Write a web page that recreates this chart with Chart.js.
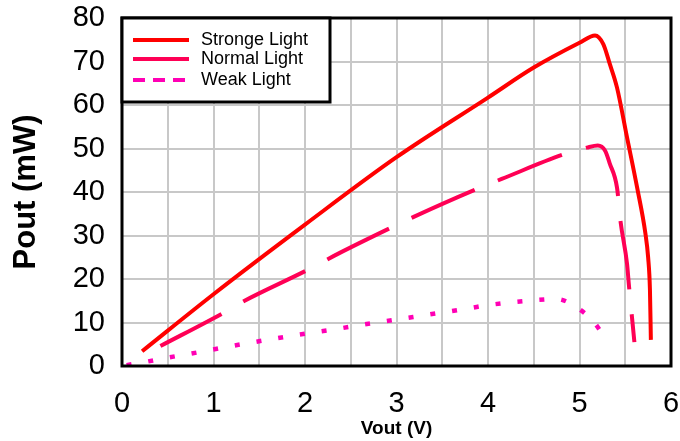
<!doctype html>
<html lang="en">
<head>
<meta charset="utf-8" />
<title>Pout vs Vout</title>
<script src="https://cdn.jsdelivr.net/npm/chart.js@4.4.4/dist/chart.umd.min.js"></script>
<style>
  html, body { margin: 0; padding: 0; background: #fff; }
  #wrap { width: 680px; height: 441px; position: relative; }
</style>
</head>
<body>
<div id="wrap"><canvas id="chart"></canvas></div>
<script>
// values (Vout in V, Pout in mW)
const strongV = [0.22, 1.0, 2.0, 3.0, 4.0, 4.5, 5.0, 5.17, 5.26, 5.33, 5.41, 5.52, 5.63, 5.72, 5.75, 5.77, 5.78];
const strongP = [3.4, 16.5, 32.5, 48, 61.7, 68.6, 74.3, 76, 74, 69.5, 64, 52.5, 41, 30.5, 25, 17.4, 6];

const normalV = [0.42, 1.09, 1.34, 2.02, 2.38, 2.96, 3.2, 3.89, 4.15, 4.82, 5.08, 5.2, 5.28, 5.33, 5.41, 5.45, 5.52, 5.54, 5.6];
const normalP = [4.6, 12, 15, 22, 26, 32, 34.4, 40.8, 43, 48.6, 50.2, 50.7, 49.5, 46.6, 41, 33, 23.4, 18.6, 5.5];

const weakV = [0.05, 0.27, 0.52, 0.74, 1.2, 1.9, 2.4, 2.6, 3.1, 3.8, 4.0, 4.5, 4.75, 4.93, 5.16, 5.3];
const weakP = [0.2, 1, 2, 2.8, 4.6, 7.1, 8.7, 9.4, 11, 13.3, 14, 15.1, 15.4, 14, 10, 5.7];

const labels = ["Stronge Light", "Normal Light", "Weak Light"];
const colors = ["#ff0000", "#ff0055", "#ff00b4"];

const pts = (xs, ys) => xs.map((x, i) => ({ x, y: ys[i] }));

// frame around the plot + legend box in the upper-left corner
const framePlugin = {
  id: "frame",
  afterDraw(chart) {
    const { ctx, chartArea: a } = chart;
    ctx.save();
    ctx.strokeStyle = "#000";
    ctx.lineWidth = 3;
    ctx.strokeRect(a.left, a.top, a.right - a.left, a.bottom - a.top);

    // legend
    const bx = a.left, by = a.top, bw = 208, bh = 84;
    ctx.fillStyle = "#fff";
    ctx.fillRect(bx, by, bw, bh);
    ctx.lineWidth = 3;
    ctx.strokeRect(bx, by, bw, bh);
    const rows = [by + 22, by + 41, by + 62];
    ctx.font = '18px "Liberation Sans", Arial, sans-serif';
    ctx.textBaseline = "middle";
    labels.forEach((t, i) => {
      ctx.strokeStyle = colors[i];
      ctx.lineWidth = 4;
      ctx.setLineDash(i === 2 ? [12, 8] : []);
      ctx.beginPath();
      ctx.moveTo(bx + 11, rows[i]);
      ctx.lineTo(bx + 67, rows[i]);
      ctx.stroke();
      ctx.setLineDash([]);
      ctx.fillStyle = "#000";
      ctx.fillText(t, bx + 79, rows[i]);
    });
    ctx.restore();
  },
};

const tickFont = { family: '"Liberation Sans", Arial, sans-serif', size: 29 };

new Chart(document.getElementById("chart"), {
  type: "line",
  data: {
    datasets: [
      { label: labels[0], data: pts(strongV, strongP), borderColor: colors[0], borderWidth: 4 },
      { label: labels[1], data: pts(normalV, normalP), borderColor: colors[1], borderWidth: 4, borderDash: [69, 25] },
      { label: labels[2], data: pts(weakV, weakP), borderColor: colors[2], borderWidth: 4.5, borderDash: [5, 17] },
    ],
  },
  options: {
    animation: false,
    responsive: true,
    maintainAspectRatio: false,
    parsing: false,
    layout: { padding: { left: 0, right: 9, top: 18, bottom: 0 } },
    elements: {
      point: { radius: 0 },
      line: { cubicInterpolationMode: "monotone", borderCapStyle: "butt", fill: false },
    },
    plugins: { legend: { display: false }, tooltip: { enabled: false } },
    scales: {
      x: {
        type: "linear",
        min: 0,
        max: 6,
        afterFit: (s) => { s.height = 75; s.paddingLeft = 0; s.paddingRight = 0; },
        border: { display: false },
        grid: { color: "#c8c8c8", lineWidth: 2, drawTicks: false },
        ticks: {
          stepSize: 0.5,
          padding: 21,
          color: "#000",
          font: tickFont,
          maxRotation: 0,
          autoSkip: false,
          callback: (v) => (Number.isInteger(v) ? String(v) : ""),
        },
        title: {
          display: true,
          text: "Vout (V)",
          color: "#000",
          font: { family: '"Liberation Sans", Arial, sans-serif', size: 19, weight: "bold" },
          padding: { top: 0, bottom: 1 },
        },
      },
      y: {
        min: 0,
        max: 80,
        afterFit: (s) => { s.width = 122; s.paddingTop = 0; s.paddingBottom = 0; },
        border: { display: false },
        grid: { color: "#c8c8c8", lineWidth: 2, drawTicks: false },
        ticks: { stepSize: 10, padding: 17, color: "#000", font: tickFont },
        title: {
          display: true,
          text: "Pout (mW)",
          color: "#000",
          font: { family: '"Liberation Sans", Arial, sans-serif', size: 31, weight: "bold" },
          padding: { top: 8, bottom: 0 },
        },
      },
    },
  },
  plugins: [framePlugin],
});
</script>
</body>
</html>
